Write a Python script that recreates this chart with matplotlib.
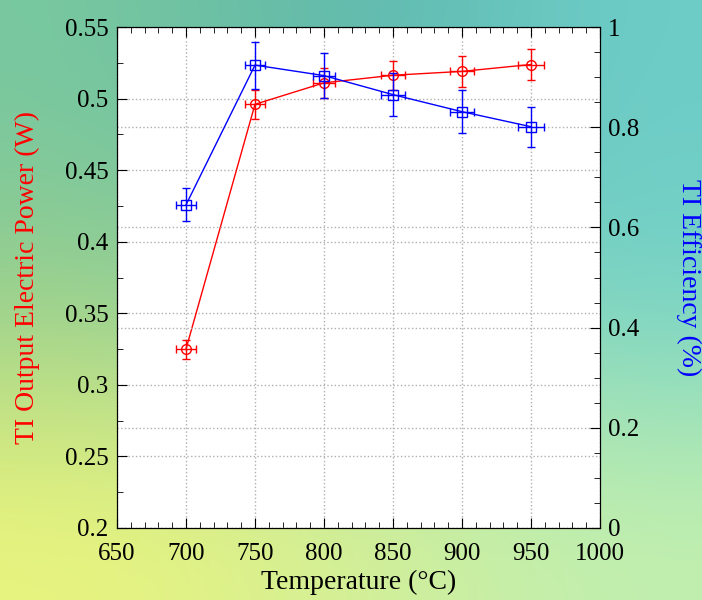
import numpy as np
import matplotlib
matplotlib.use('Agg')
import matplotlib.pyplot as plt
from matplotlib.ticker import MultipleLocator

# datos
temperatura = [700, 750, 800, 850, 900, 950]
potencia = [0.325, 0.496, 0.511, 0.5163, 0.519, 0.5238]
err_potencia = [0.0066, 0.010, 0.0107, 0.010, 0.0107, 0.0107]
eficiencia = [0.645, 0.924, 0.903, 0.865, 0.831, 0.801]
err_eficiencia = [0.033, 0.047, 0.045, 0.043, 0.043, 0.040]
err_temperatura = [7.0, 7.5, 8.0, 8.5, 9.0, 9.5]

ticks_x = [650, 700, 750, 800, 850, 900, 950, 1000]
ticks_y1 = [0.2, 0.25, 0.3, 0.35, 0.4, 0.45, 0.5, 0.55]
etiq_y1 = ['0.2', '0.25', '0.3', '0.35', '0.4', '0.45', '0.5', '0.55']
ticks_y2 = [0, 0.2, 0.4, 0.6, 0.8, 1.0]
etiq_y2 = ['0', '0.2', '0.4', '0.6', '0.8', '1']

plt.rcParams['font.family'] = ['Liberation Serif', 'DejaVu Serif']

fig = plt.figure(figsize=(7.02, 6.0), dpi=100)

# fondo degradado (decorativo)
fondo = np.array([
    [[120, 200, 160], [90, 180, 170], [110, 205, 200]],
    [[150, 205, 140], [140, 210, 175], [115, 210, 200]],
    [[235, 245, 125], [215, 240, 150], [195, 240, 175]],
]) / 255.0
ax_bg = fig.add_axes([0, 0, 1, 1], zorder=-10)
ax_bg.imshow(fondo, aspect='auto', interpolation='bicubic', extent=[0, 1, 0, 1])
ax_bg.axis('off')

ax = fig.add_axes([117 / 702, 1 - 528 / 600, 483 / 702, 501 / 600])
ax.set_facecolor('white')
ax2 = ax.twinx()

ax.errorbar(temperatura, potencia, yerr=err_potencia, xerr=err_temperatura,
            color='red', marker='o', ms=7, mfc='none', mec='red', lw=1,
            elinewidth=1, capsize=3, zorder=3)
ax2.errorbar(temperatura, eficiencia, yerr=err_eficiencia, xerr=err_temperatura,
             color='blue', marker='s', ms=7, mfc='none', mec='blue', lw=1,
             elinewidth=1, capsize=3, zorder=3)

ax.set_xticks(ticks_x)
ax.set_xticklabels([str(t) for t in ticks_x])
ax.set_yticks(ticks_y1)
ax.set_yticklabels(etiq_y1)
ax2.set_yticks(ticks_y2)
ax2.set_yticklabels(etiq_y2)

ax.xaxis.set_minor_locator(MultipleLocator(10))
ax.yaxis.set_minor_locator(MultipleLocator(0.025))
ax2.yaxis.set_minor_locator(MultipleLocator(0.05))

ax.set_xlim(650, 1000)
ax.set_ylim(0.2, 0.55)
ax2.set_ylim(0, 1)

ax.tick_params(axis='x', which='both', direction='in', top=True, labelsize=18, pad=11)
ax.tick_params(axis='y', which='both', direction='in', right=False, labelsize=18, pad=6)
ax2.tick_params(axis='y', which='both', direction='in', labelsize=18, pad=6)
for a in (ax, ax2):
    a.tick_params(which='major', length=7)
    a.tick_params(which='minor', length=4)

ax.grid(True, which='major', color='#b0b0b0', ls=':', lw=1)
ax2.grid(True, which='major', axis='y', color='#b0b0b0', ls=':', lw=1)

ax.set_xlabel('Temperature (°C)', fontsize=20, labelpad=3)
ax.set_ylabel('TI Output Electric Power (W)', fontsize=20, color='red', labelpad=18)
ax2.set_ylabel('TI Efficiency (%)', fontsize=20, color='blue', rotation=-90, labelpad=44)

plt.savefig('out.png', dpi=100)
